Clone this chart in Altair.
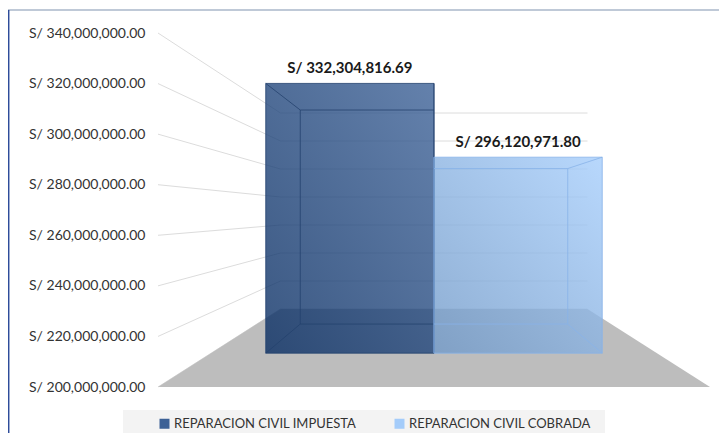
import altair as alt
import pandas as pd

# ---------------- data ----------------
categories = ["REPARACION CIVIL IMPUESTA", "REPARACION CIVIL COBRADA"]
values = [332304816.69, 296120971.80]
tick_values = [200e6, 220e6, 240e6, 260e6, 280e6, 300e6, 320e6, 340e6]

# ---------------- style / 3D projection constants ----------------
Y_MIN, Y_MAX = 200e6, 340e6
KX = 0.4438        # lateral shrink from front (z=0) to back wall (z=1)
KY = 0.4464        # vertical shrink from front to back wall
A = 30.85e6        # vertical lift of the floor level at the back wall
Z_FRONT, Z_BACK = 0.434, 0.807   # depth of the bars' front / back faces
BAR_W = 0.755      # lateral width of one bar (u units, floor spans -1..1)

BAR_COLORS = ["#08377b", "#8dc0fb"]
EDGE_COLORS = ["#24426e", "#88b3e8"]
GRID_COLOR = "#dcdcdc"
FLOOR_COLOR = "#bdbdbd"
FONT = "Lato"


def proj(u, z, v):
    """perspective-like projection into (x units, axis money units)."""
    return u * (1 - KX * z), Y_MIN + A * z + (1 - KY * z) * (v - Y_MIN)


# grid lines: side diagonals and back-wall lines
grid_rows = []
for v in tick_values:
    xa, ya = proj(-1, 0, v)
    xb, yb = proj(-1, 1, v)
    xc, yc = proj(1, 1, v)
    grid_rows.append(dict(x=xa, y=ya, x2=xb, y2=yb))
    grid_rows.append(dict(x=xb, y=yb, x2=xc, y2=yc))
grid_df = pd.DataFrame(grid_rows)

# floor
floor_pts = [(-1, 0), (-1, 1), (1, 1), (1, 0)]
floor_df = pd.DataFrame(
    [dict(x=proj(u, z, Y_MIN)[0], y=proj(u, z, Y_MIN)[1], y2=Y_MIN) for u, z in floor_pts]
)

# bars (front faces) + edges of the translucent boxes
bar_rows, edge_rows = [], []
for i, (cat, val) in enumerate(zip(categories, values)):
    u0 = -BAR_W + i * BAR_W
    u1 = u0 + BAR_W
    fx0, fyt = proj(u0, Z_FRONT, val)
    fx1, fyb = proj(u1, Z_FRONT, Y_MIN)
    bx0, byt = proj(u0, Z_BACK, val)
    bx1, byb = proj(u1, Z_BACK, Y_MIN)
    bar_rows.append(dict(cat=cat, value=val, x=fx0, x2=fx1, y=fyt, y2=fyb,
                         xm=(fx0 + fx1) / 2))
    segs = [
        (fx0, fyt, fx1, fyt), (fx0, fyb, fx1, fyb), (fx0, fyt, fx0, fyb), (fx1, fyt, fx1, fyb),
        (bx0, byt, bx1, byt), (bx0, byb, bx1, byb), (bx0, byt, bx0, byb), (bx1, byt, bx1, byb),
        (fx0, fyt, bx0, byt), (fx1, fyt, bx1, byt), (fx0, fyb, bx0, byb), (fx1, fyb, bx1, byb),
    ]
    for (a, b, c, d) in segs:
        edge_rows.append(dict(cat=cat, idx=i, x=a, y=b, x2=c, y2=d))
bar_df = pd.DataFrame(bar_rows)
edge_df = pd.DataFrame(edge_rows)

xs = alt.Scale(domain=[-1, 1], nice=False, zero=False)
ys = alt.Scale(domain=[Y_MIN, Y_MAX], nice=False, zero=False)

AXIS_Y = alt.Axis(
    values=tick_values, labelExpr="'S/ ' + format(datum.value, ',.2f')",
    ticks=False, domain=False, grid=False, title=None, orient="left",
    labelFont=FONT, labelFontSize=14, labelColor="#333333", labelPadding=13)

X = lambda f="x": alt.X(f"{f}:Q", scale=xs, axis=None)
Y = lambda f="y": alt.Y(f"{f}:Q", scale=ys, axis=AXIS_Y)

grid = alt.Chart(grid_df).mark_rule(color=GRID_COLOR, strokeWidth=1).encode(
    x=X(), x2="x2:Q", y=Y(), y2="y2:Q",
)

floor = alt.Chart(floor_df).mark_area(color=FLOOR_COLOR, opacity=1).encode(
    x=X(), y=Y(), y2="y2:Q"
)

bars = alt.Chart(bar_df).mark_rect(opacity=0.75).encode(
    x=X(), x2="x2:Q", y=Y(), y2="y2:Q",
    color=alt.Color("cat:N", scale=alt.Scale(domain=categories, range=BAR_COLORS),
                    legend=alt.Legend(orient="none", legendX=0, legendY=384, direction="horizontal",
                                      columns=2, title=None, symbolType="square", symbolSize=100,
                                      symbolStrokeWidth=0, symbolOpacity=0.78,
                                      labelFont=FONT, labelFontSize=13, labelColor="#333333",
                                      labelLimit=400, columnPadding=36, labelOffset=3, padding=0)),
)

shade = alt.Chart(bar_df).mark_rect(
    fill=alt.Gradient(gradient="linear", x1=0, y1=1, x2=1, y2=0,
                      stops=[alt.GradientStop(color="rgba(0,0,0,0.16)", offset=0),
                             alt.GradientStop(color="rgba(255,255,255,0.16)", offset=1)])
).encode(x=X(), x2="x2:Q", y=Y(), y2="y2:Q")

edge_layers = []
for i, cat in enumerate(categories):
    edge_layers.append(
        alt.Chart(edge_df).transform_filter(alt.datum.idx == i)
        .mark_rule(color=EDGE_COLORS[i], strokeWidth=1, opacity=0.8)
        .encode(x=X(), x2="x2:Q", y=Y(), y2="y2:Q")
    )

labels = alt.Chart(bar_df).transform_calculate(
    label="'S/ ' + format(datum.value, ',.2f')"
).mark_text(font=FONT, fontSize=15, fontWeight="bold", color="#1a1a1a", dy=-15,
            baseline="middle", align="center").encode(
    x=X("xm"), y=Y(), text="label:N"
)

# decorative chart-area frame and legend background
frame_top = alt.Chart(pd.DataFrame({"k": [0]})).mark_rule(color="#8093b0", strokeWidth=1.2).encode(
    x=alt.value(-150), x2=alt.value(561), y=alt.value(-23))
frame_left = alt.Chart(pd.DataFrame({"k": [0]})).mark_rule(color="#2e4c9a", strokeWidth=1.5).encode(
    x=alt.value(-149.3), y=alt.value(-23), y2=alt.value(400))
legend_bg = alt.Chart(pd.DataFrame({"k": [0]})).mark_rect(color="#f3f3f3").encode(
    x=alt.value(-35), x2=alt.value(447), y=alt.value(377), y2=alt.value(400))

chart = alt.layer(
    legend_bg, grid, floor, bars, shade, *edge_layers, labels, frame_top, frame_left
).properties(
    width=552, height=354,
    padding={"left": 150, "top": 25, "right": 9, "bottom": 46},
    autosize=alt.AutoSizeParams(type="none"),
).configure_view(stroke=None)

chart.save("out.html", embed_options={"renderer": "svg", "actions": False})
